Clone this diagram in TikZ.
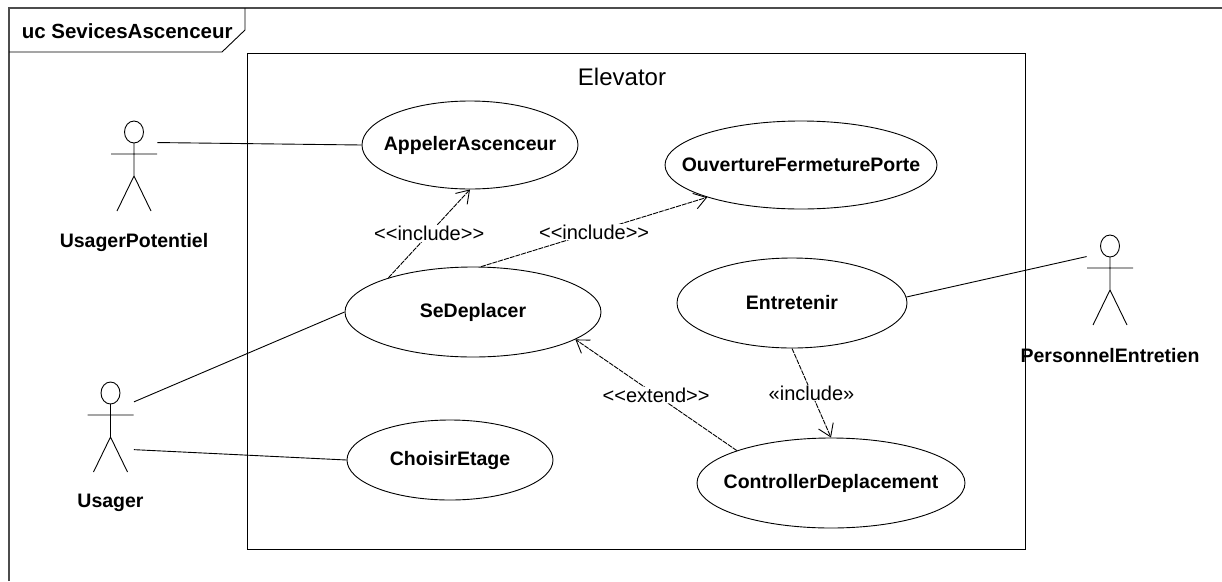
\documentclass[tikz,border=0pt]{standalone}
\usepackage{fontspec}
\setmainfont{Liberation Sans}
\usetikzlibrary{arrows.meta, shapes.geometric}

\newcommand\boldlabel{\fontsize{19.5}{23}\selectfont\bfseries}

\tikzset{
  actor/.pic={
    \node[minimum width=46, minimum height=90, inner sep=0] (-box) {};
    \draw (0,-34) ellipse [x radius=9.5, y radius=11];
    \draw (0,-23) -- (0,10) (-23,-12) -- (23,-12) (-17,45) -- (0,10) -- (17,45);
    \node[font=\boldlabel] at (0,76) {#1};
  }
}

\begin{document}
\begin{tikzpicture}[
  x=1pt, y=-1pt,
  line width=0.9pt,
  font=\fontsize{20}{24}\selectfont,
  usecase/.style={draw, ellipse, inner sep=0,
                  label={[font=\boldlabel]center:#1}},
  dep/.style={dash pattern=on 5pt off 1pt,
              -{Straight Barb[length=12pt, width=16pt]}},
  stereo/.style={fill=white, inner sep=1pt},
  frame/.style={draw=black!70, line width=1.8pt}
]
\useasboundingbox (0,0) rectangle (1222,581);

\draw[frame] (9,581) -- (9,8) -- (1222,8);
\draw (9,52) -- (222,52) -- (245,30) -- (245,8);
\node[font=\fontsize{20.5}{24}\selectfont\bfseries, anchor=west] (title) at (18,31) {uc SevicesAscenceur};

\draw (247,53) rectangle (1025,549);
\node[font=\fontsize{24}{28}\selectfont] (sysname) at (622,77) {Elevator};

\node[usecase=AppelerAscenceur, minimum width=216, minimum height=88] (appel) at (470,145) {};
\node[usecase=OuvertureFermeturePorte, minimum width=272, minimum height=88] (ouv) at (801,165) {};
\node[usecase=SeDeplacer, minimum width=256, minimum height=90] (sedep) at (473,312) {};
\node[usecase=Entretenir, minimum width=230, minimum height=90] (entr) at (792,303) {};
\node[usecase=ChoisirEtage, minimum width=206, minimum height=80] (choix) at (450,460) {};
\node[usecase=ControllerDeplacement, minimum width=268, minimum height=90] (ctrl) at (831,483) {};

\pic (upot) at (134,166) {actor=UsagerPotentiel};
\pic (usg) at (110.5,427) {actor=Usager};
\pic (pers) at (1110,280) {actor=PersonnelEntretien};

\draw (upot-box.45) -- (appel.west);
\draw (usg-box.47) -- (sedep.west);
\draw (usg-box.-44) -- (choix.west);
\draw (pers-box.135) -- (entr.3);

\draw[dep] (sedep.158) -- node[stereo] {<{}<include>{}>} (appel.south);
\draw[dep] (sedep.80) -- node[stereo] {<{}<include>{}>} (ouv.199);
\draw[dep] (ctrl.161) -- node[stereo] {<{}<extend>{}>} (sedep.-15);
\draw[dep] (entr.south) -- node[stereo] {«include»} (ctrl.north);

\end{tikzpicture}
\end{document}
